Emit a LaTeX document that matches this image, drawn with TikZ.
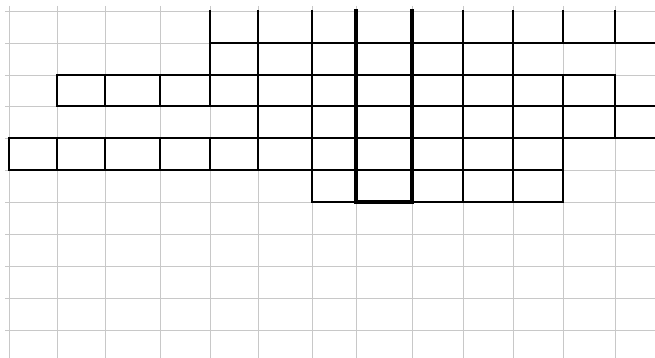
\documentclass[tikz,border=0pt]{standalone}
\begin{document}
\begin{tikzpicture}[x=1pt,y=-1pt,
  gridline/.style={draw={rgb,255:red,200;green,200;blue,200},line width=0.9pt},
  cellline/.style={draw=black,line width=1.5pt,line cap=rect},
  keyline/.style={draw=black,line width=3.4pt,line cap=rect}]
\useasboundingbox (0,0) rectangle (655,358);
\fill[white] (0,0) rectangle (655,358);
% columns and rows of the squared paper
\def\cols{9,57,105,160,210,258,312,356,412,463,513,563,615}
\def\rows{11,43,75,106,138,170,202,234,266,298,330}
\foreach \x in \cols {\draw[gridline] (\x,6) -- (\x,358);}
\foreach \y in \rows {\draw[gridline] (5,\y) -- (655,\y);}
% horizontal cell borders
\draw[cellline] (210,43) -- (655,43);
\draw[cellline] (57,75) -- (615,75);
\draw[cellline] (57,106) -- (655,106);
\draw[cellline] (9,138) -- (655,138);
\draw[cellline] (9,170) -- (563,170);
\draw[cellline] (312,202) -- (563,202);
% vertical cell borders
\draw[cellline] (9,138) -- (9,170);
\foreach \x in {57,105,160} {
  \draw[cellline] (\x,75) -- (\x,106);
  \draw[cellline] (\x,138) -- (\x,170);
}
\draw[cellline] (210,11) -- (210,106);
\draw[cellline] (210,138) -- (210,170);
\draw[cellline] (258,11) -- (258,170);
\foreach \x in {312,463,513} {\draw[cellline] (\x,11) -- (\x,202);}
\draw[cellline] (563,11) -- (563,43);
\draw[cellline] (563,75) -- (563,202);
\draw[cellline] (615,11) -- (615,43);
\draw[cellline] (615,75) -- (615,138);
% key column
\draw[keyline] (356,11) -- (356,202) -- (412,202) -- (412,11);
\end{tikzpicture}
\end{document}
